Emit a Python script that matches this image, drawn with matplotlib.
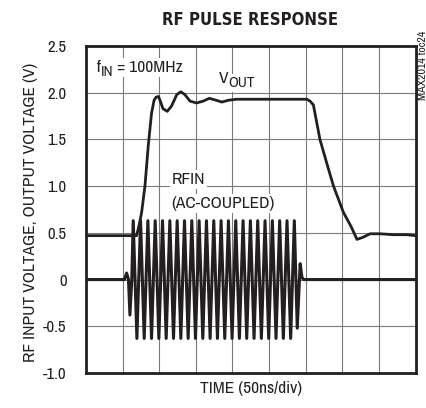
import matplotlib
matplotlib.use("Agg")
import matplotlib.pyplot as plt

# output voltage trace (time in divisions, volts)
vout_t = [0, 0.5, 1.0, 1.38, 1.45, 1.52, 1.61, 1.70, 1.79, 1.86, 1.91, 1.98, 2.04,
          2.10, 2.22, 2.34, 2.48, 2.59, 2.70, 2.84, 3.02, 3.20, 3.37, 3.55, 3.71,
          3.90, 4.12, 4.6, 5.0, 5.5, 6.03, 6.12, 6.21, 6.39, 6.58, 6.76, 7.03,
          7.25, 7.40, 7.55, 7.76, 8.03, 8.4, 8.76, 9.0]
vout_v = [0.47, 0.47, 0.47, 0.47, 0.58, 0.72, 1.00, 1.43, 1.78, 1.92, 1.95, 1.96, 1.90,
          1.83, 1.80, 1.86, 1.98, 2.01, 1.98, 1.91, 1.89, 1.91, 1.94, 1.92, 1.90,
          1.92, 1.93, 1.93, 1.93, 1.93, 1.93, 1.91, 1.87, 1.50, 1.24, 1.00, 0.72,
          0.56, 0.43, 0.45, 0.49, 0.49, 0.48, 0.48, 0.47]

# RF input burst, AC-coupled (extrema)
rf_t = [0, 0.6, 1.05, 1.11, 1.16, 1.20, 1.25,
        1.29, 1.39, 1.49, 1.59, 1.69, 1.79, 1.89, 1.99, 2.09, 2.19,
        2.29, 2.39, 2.49, 2.59, 2.69, 2.79, 2.89, 2.99, 3.09, 3.19,
        3.29, 3.39, 3.49, 3.59, 3.69, 3.79, 3.89, 3.99, 4.09, 4.19,
        4.29, 4.39, 4.49, 4.59, 4.69, 4.79, 4.89, 4.99, 5.09, 5.19,
        5.29, 5.39, 5.49, 5.59, 5.69, 5.77, 5.85, 5.90, 5.95, 6.5, 7.5, 9.0]
rf_v = [0.0, 0.0, 0.0, 0.07, 0.0, -0.38, 0.0,
        0.63, -0.63, 0.63, -0.63, 0.63, -0.63, 0.63, -0.63, 0.63, -0.63,
        0.63, -0.63, 0.63, -0.63, 0.63, -0.63, 0.63, -0.63, 0.63, -0.63,
        0.63, -0.63, 0.63, -0.63, 0.63, -0.63, 0.63, -0.63, 0.63, -0.63,
        0.63, -0.63, 0.63, -0.63, 0.63, -0.63, 0.63, -0.63, 0.63, -0.63,
        0.63, -0.63, 0.63, -0.63, 0.63, -0.52, 0.17, 0.02, 0.0, 0.0, 0.0, 0.0]

yticks = [-1.0, -0.5, 0, 0.5, 1.0, 1.5, 2.0, 2.5]
ytick_labels = ["-1.0", "-0.5", "0", "0.5", "1.0", "1.5", "2.0", "2.5"]

ink = "#231f20"
plt.rcParams["font.family"] = ["Archivo Narrow", "DejaVu Sans"]

fig = plt.figure(figsize=(4.27, 4.08), dpi=100)
ax = fig.add_axes([0.2014, 0.0858, 0.7717, 0.8015])

ax.plot(rf_t, rf_v, color=ink, lw=2.2, solid_joinstyle="round", zorder=3)
ax.plot(vout_t, vout_v, color=ink, lw=2.0, solid_joinstyle="round", zorder=4)

ax.set_xlim(0, 9)
ax.set_ylim(-1.0, 2.5)
ax.set_xticks(range(1, 9))
ax.set_xticklabels([])
ax.set_yticks(yticks)
ax.set_yticklabels(ytick_labels, fontsize=12, color=ink)
ax.tick_params(length=0, pad=14)
ax.tick_params(axis="x", length=0, pad=0)
ax.grid(True, color="#7a7a7a", lw=0.8, zorder=1)
for s in ax.spines.values():
    s.set_linewidth(2.0)
    s.set_color(ink)

ax.set_ylabel("RF INPUT VOLTAGE, OUTPUT VOLTAGE (V)", fontsize=12.5, color=ink)
ax.yaxis.set_label_coords(-0.147, 0.49)
ax.set_xlabel("TIME (50ns/div)", fontsize=12.5, color=ink)
ax.xaxis.set_label_coords(0.5, -0.026)

fig.text(0.586, 0.951, "RF PULSE RESPONSE", ha="center", va="center",
         fontsize=12, fontweight="bold", fontstretch="condensed", color=ink,
         family="DejaVu Sans")
fig.text(0.991, 0.926, "MAX2014 toc24", rotation=90, ha="center", va="top",
         fontsize=8.5, color=ink)


def chain_label(x, y, parts):
    # parts: (text, size, vertical shift in points); white backing first, ink on top
    for layer in ("bg", "fg"):
        col = (1, 1, 1, 0) if layer == "bg" else ink
        kw = dict(bbox=dict(facecolor="white", edgecolor="none", pad=1.5)) if layer == "bg" else {}
        z = 4.5 if layer == "bg" else 5
        prev = None
        shift = 0
        for s, size, dy in parts:
            if prev is None:
                prev = ax.text(x, y, s, fontsize=size, color=col, ha="left",
                               va="baseline", zorder=z, **kw)
            else:
                prev = ax.annotate(s, xy=(1, 0), xycoords=prev, xytext=(0, dy - shift),
                                   textcoords="offset points", fontsize=size, color=col,
                                   ha="left", va="bottom", zorder=z, **kw)
            shift = dy


chain_label(0.29, 2.22, [("f", 12.5, 0), ("IN", 11, -2.5), (" = 100MHz", 12.5, 0)])
chain_label(3.63, 2.10, [("V", 12.5, 0), ("OUT", 11, -2.5)])
chain_label(2.34, 1.02, [("RFIN", 12.5, 0)])
chain_label(2.34, 0.77, [("(AC-COUPLED)", 12.5, 0)])

fig.savefig("out.png", dpi=100)
